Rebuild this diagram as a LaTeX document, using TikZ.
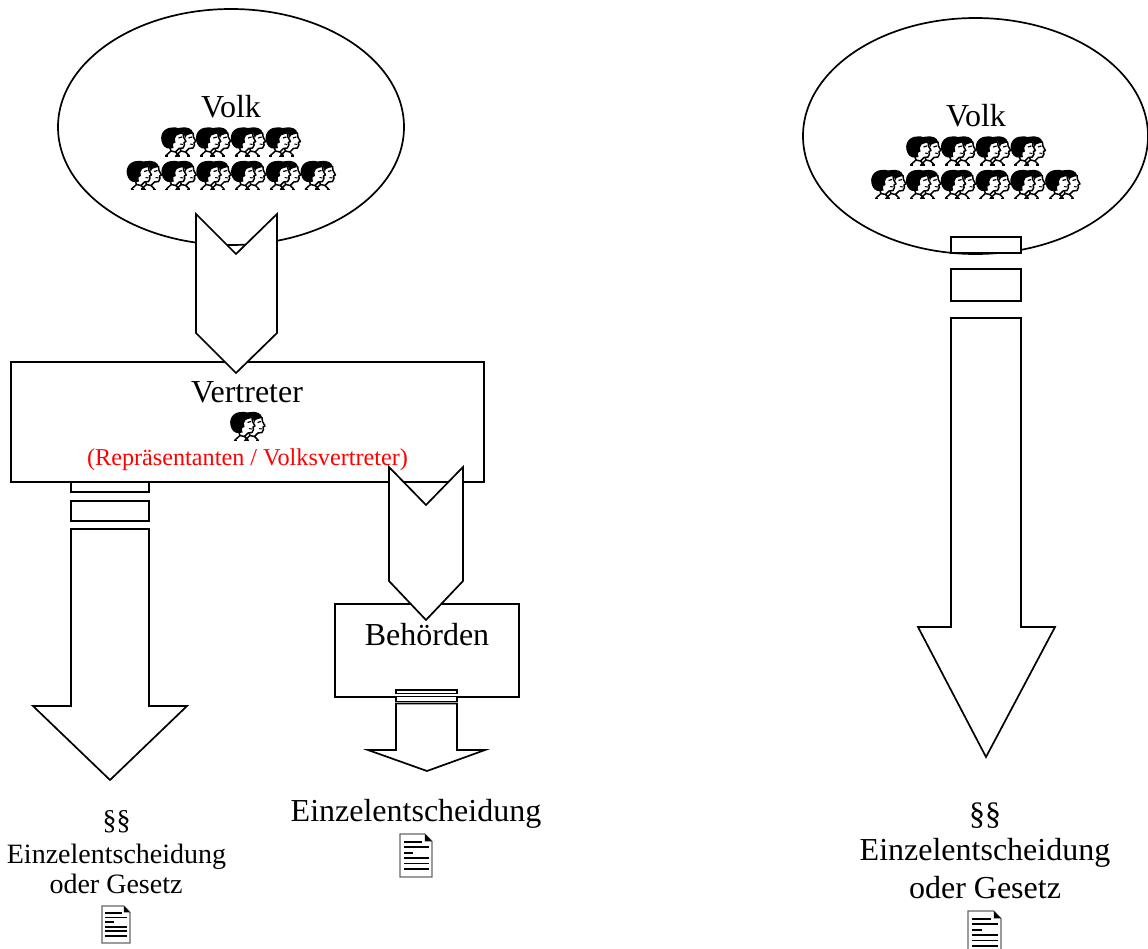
\documentclass[tikz,border=0pt]{standalone}
\usepackage{fontspec}
\usetikzlibrary{shapes.geometric}
\setmainfont{Liberation Serif}
\newcommand{\fsz}[1]{\fontsize{#1}{#1}\selectfont}
\tikzset{
  x=1pt,y=-1pt,
  shapeline/.style={draw=black,line width=1.7pt,fill=white,line join=miter},
  lbl/.style={anchor=base,inner sep=0pt,outer sep=0pt,text=black},
  big/.style={lbl,font=\fsz{32}},
  mid/.style={lbl,font=\fsz{28}},
  redlbl/.style={lbl,font=\fsz{24.2},text=red},
  onehead/.pic={
    \fill[white] (6,6) -- (22,4) -- (25,13) -- (24,20) -- (17,21) -- (14,28) -- (4,28) -- (7,20) -- cycle;
    \fill[black] (1.5,16) .. controls (-2.5,7) and (3,-0.5) .. (11,-0.5) .. controls (16,-1) and (21,0) .. (22.5,5.5)
       .. controls (20,6.5) and (17,6) .. (15.5,7.5) .. controls (13.5,9.5) and (13.5,12) .. (14.5,14.5)
       .. controls (12,14) and (11.5,16) .. (12.5,20) .. controls (8,21.5) and (3.5,20.5) .. (1.5,16) -- cycle;
    \draw[black,line width=1.5pt,line join=round,line cap=round]
       (22,5) -- (22.5,9) -- (25,13.5) -- (23,14.5) -- (23.5,17) -- (22,20) -- (18,20.5) -- (14.5,24) -- (18,27.5);
    \draw[black,line width=1.5pt,line cap=round] (9,20) -- (10,23) -- (5,27.5);
    \draw[black,line width=1.5pt,line cap=round] (10,23) -- (14.5,24);
    \draw[black,line width=1.3pt] (4,28) -- (7,28) (16,28) -- (19,28);
    \draw[black,line width=1.2pt] (17.5,10) -- (21,9);
    \draw[black,line width=1pt] (19,16) -- (22,16.5);
  },
  headpair/.pic={
    \pic at (10,0) {onehead};
    \pic at (0,0) {onehead};
  },
  docicon/.pic={
    \fill[white,draw=black!60,line width=1.1pt] (0,0) -- (0.78,0) -- (1,0.17) -- (1,1) -- (0,1) -- cycle;
    \fill[black] (0.78,0) -- (1,0.17) -- (0.78,0.17) -- cycle;
    \foreach \yy/\xx in {0.19/0.7,0.31/0.9,0.435/0.42,0.56/0.9,0.685/0.9,0.82/0.9}
      \draw[black,line width=1.8pt] (0.12,\yy) -- (\xx,\yy);
  }
}
\newcommand{\headrow}[3]{%
  \foreach \i in {1,...,#3} \pic at ({#1+(\i-1)*34.8},#2) {headpair};}
\begin{document}
\begin{tikzpicture}
\useasboundingbox (0,0) rectangle (1148,948);
% ---- left
\node[shapeline,ellipse,minimum width=346pt,minimum height=236pt,inner sep=0pt] (volkL) at (231,127) {};
\path[shapeline] (71,482) rectangle (149,492);
\path[shapeline] (71,501) rectangle (149,521);
\path[shapeline] (71,529) -- (149,529) -- (149,706) -- (187,706) -- (110,780) -- (33,706) -- (71,706) -- cycle;
\node[shapeline,rectangle,minimum width=473pt,minimum height=120pt,inner sep=0pt] (vertr) at (247.5,422) {};
\node[shapeline,rectangle,minimum width=184pt,minimum height=93pt,inner sep=0pt] (behoerde) at (427,650.5) {};
\path[shapeline] (196,214) -- (236,254) -- (277,214) -- (277,333) -- (236,373) -- (196,333) -- cycle;
\path[shapeline] (389,467) -- (426,505) -- (463,467) -- (463,581) -- (426,620) -- (389,581) -- cycle;
\node[big] (volkLtxt) at (231,117) {Volk};
\headrow{161}{128}{4}
\headrow{126.5}{161.5}{6}
\node[big] (vertrtxt) at (247,402) {Vertreter};
\pic at (230,412.5) {headpair};
\node[redlbl] (reprtxt) at (247.5,465) {(Repräsentanten / Volksvertreter)};
\node[big] (behtxt) at (427,645) {Behörden};
\path[shapeline] (396,690) rectangle (457,693.5);
\path[shapeline] (396,696.5) rectangle (457,701.5);
\path[shapeline] (396,703.5) -- (457,703.5) -- (457,750) -- (485,750) -- (427,771) -- (368,750) -- (396,750) -- cycle;
\node[mid] (parL) at (116.5,829) {§§};
\node[mid] (einzL) at (116.5,863) {Einzelentscheidung};
\node[mid] (oderL) at (116,893) {oder Gesetz};
\pic[xscale=28,yscale=37] at (102,906) {docicon};
\node[big] (einzM) at (416,821) {Einzelentscheidung};
\pic[xscale=32,yscale=43] at (400,834) {docicon};
% ---- right
\node[shapeline,ellipse,minimum width=345pt,minimum height=236pt,inner sep=0pt] (volkR) at (975.5,136) {};
\node[big] (volkRtxt) at (976,126) {Volk};
\headrow{906}{137}{4}
\headrow{871}{170.5}{6}
\path[shapeline] (951,237) rectangle (1021,253);
\path[shapeline] (951,269) rectangle (1021,301);
\path[shapeline] (951,318) -- (1021,318) -- (1021,627) -- (1055,627) -- (986,757) -- (918,627) -- (951,627) -- cycle;
\node[big] (parR) at (985,824) {§§};
\node[big] (einzR) at (985,860) {Einzelentscheidung};
\node[big] (oderR) at (985,898) {oder Gesetz};
\pic[xscale=33,yscale=43] at (968,911) {docicon};
\end{tikzpicture}
\end{document}
